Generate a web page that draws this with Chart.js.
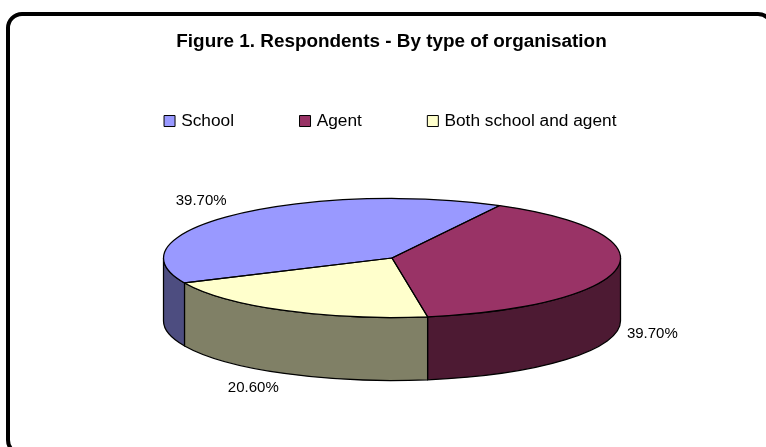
<!DOCTYPE html>
<html>
<head>
<meta charset="utf-8">
<style>
  html, body { margin: 0; padding: 0; background: #ffffff; }
  canvas { display: block; }
</style>
<script src="https://cdn.jsdelivr.net/npm/chart.js@4"></script>
</head>
<body>
<canvas id="chart" width="766" height="447"></canvas>
<script>
// Share of respondents per organisation type, in percent
const categories = ['School', 'Agent', 'Both school and agent'];
const shares = [39.7, 39.7, 20.6];
const chartTitle = 'Figure 1. Respondents - By type of organisation';

const topColors = ['#9999FF', '#993366', '#FFFFCC'];
const wallColors = ['#4D4D80', '#4D1A33', '#808066'];

// Tilted-disc geometry of the pie, in canvas pixels
const disc = { cx: 392, cy: 258, rx: 228.5, ry: 59.5, depth: 63 };
// Label displacement from the rim point at each slice's middle angle
const labelShift = [[-34, -14], [35, 66], [-31, 77]];

const FONT = '"Liberation Sans", Arial, sans-serif';
const TAU = Math.PI * 2;

// Outer rounded panel; it runs past the right and bottom canvas edges
const panelFrame = {
  id: 'panelFrame',
  beforeDraw(chart) {
    const ctx = chart.ctx;
    ctx.save();
    ctx.fillStyle = '#ffffff';
    ctx.fillRect(0, 0, chart.width, chart.height);
    ctx.strokeStyle = '#000000';
    ctx.lineWidth = 4;
    ctx.beginPath();
    ctx.roundRect(8, 14, 764, 440, 14);
    ctx.stroke();
    ctx.restore();
  }
};

// Draws the pie's slices as a thick tilted disc
const tiltedPie = {
  id: 'tiltedPie',
  beforeDatasetDraw(chart, args) {
    const ctx = chart.ctx;
    const arcs = args.meta.data;
    const { cx, cy, rx, ry, depth } = disc;

    ctx.save();
    ctx.strokeStyle = '#000000';
    ctx.lineWidth = 1.25;
    ctx.lineJoin = 'round';

    // Side walls: only the part of each slice that faces the viewer
    arcs.forEach((arc, i) => {
      for (let k = -1; k <= 1; k++) {
        const a0 = Math.max(arc.startAngle, TAU * k);
        const a1 = Math.min(arc.endAngle, TAU * k + Math.PI);
        if (a1 <= a0) continue;
        ctx.beginPath();
        ctx.ellipse(cx, cy, rx, ry, 0, a0, a1);
        ctx.ellipse(cx, cy + depth, rx, ry, 0, a1, a0, true);
        ctx.closePath();
        ctx.fillStyle = wallColors[i];
        ctx.fill();
        ctx.stroke();
      }
    });

    // Top face: the library's own arc elements, squashed into an ellipse
    arcs.forEach((arc) => {
      const r = arc.outerRadius;
      ctx.save();
      ctx.translate(cx, cy);
      ctx.scale(rx / r, ry / r);
      ctx.translate(-arc.x, -arc.y);
      arc.draw(ctx);
      ctx.restore();
    });

    // Slice outlines at an even line width
    arcs.forEach((arc) => {
      ctx.beginPath();
      ctx.moveTo(cx, cy);
      ctx.ellipse(cx, cy, rx, ry, 0, arc.startAngle, arc.endAngle);
      ctx.closePath();
      ctx.stroke();
    });
    ctx.restore();
    return false;
  },
  afterDraw(chart) {
    const ctx = chart.ctx;
    const arcs = chart.getDatasetMeta(0).data;
    const { cx, cy, rx, ry } = disc;
    ctx.save();
    ctx.font = '15px ' + FONT;
    ctx.fillStyle = '#000000';
    ctx.textAlign = 'center';
    ctx.textBaseline = 'middle';
    arcs.forEach((arc, i) => {
      const mid = (arc.startAngle + arc.endAngle) / 2;
      const x = cx + rx * Math.cos(mid) + labelShift[i][0];
      const y = cy + ry * Math.sin(mid) + labelShift[i][1];
      ctx.fillText(shares[i].toFixed(2) + '%', x, y);
    });
    ctx.restore();
  }
};

new Chart(document.getElementById('chart'), {
  type: 'pie',
  data: {
    labels: categories,
    datasets: [{
      data: shares,
      backgroundColor: topColors,
      borderWidth: 0
    }]
  },
  options: {
    responsive: false,
    animation: false,
    rotation: 245.2,
    layout: { padding: { left: 17 } },
    plugins: {
      tooltip: { enabled: false },
      title: {
        display: true,
        text: chartTitle,
        color: '#000000',
        font: { family: FONT, size: 18.9, weight: 'bold', lineHeight: 1.2 },
        padding: { top: 30, bottom: -8.3 }
      },
      legend: {
        position: 'top',
        labels: {
          color: '#000000',
          font: { family: FONT, size: 17.3 },
          usePointStyle: true,
          boxWidth: 6,
          boxHeight: 11,
          padding: 68,
          generateLabels() {
            return categories.map((name, i) => ({
              text: name,
              fillStyle: topColors[i],
              strokeStyle: '#000000',
              lineWidth: 1,
              pointStyle: 'rect',
              index: i
            }));
          }
        }
      }
    }
  },
  plugins: [panelFrame, tiltedPie]
});
</script>
</body>
</html>
